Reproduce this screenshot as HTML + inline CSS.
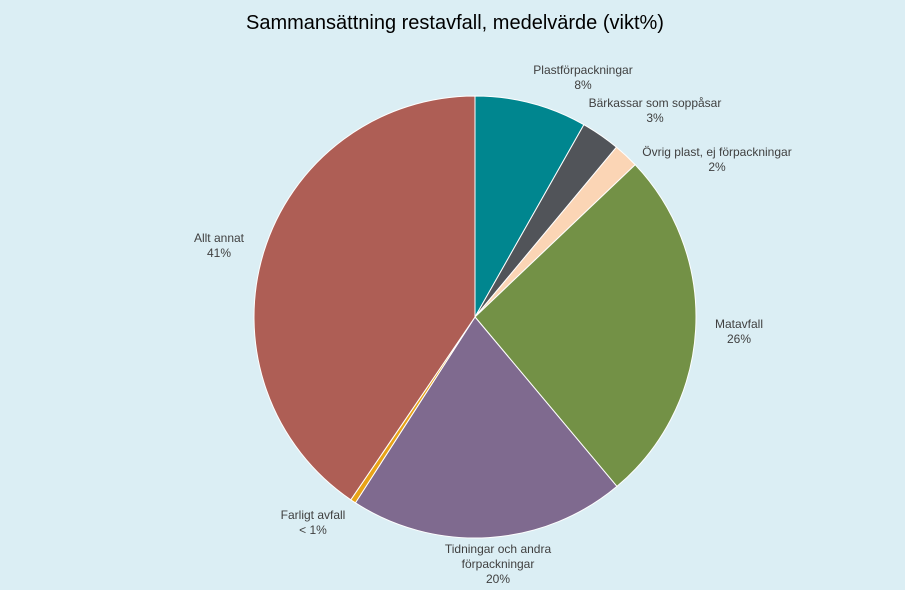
<!DOCTYPE html>
<html><head><meta charset="utf-8"><style>
html,body{margin:0;padding:0;background:#DBEEF4;}
svg{display:block;font-family:"Liberation Sans",sans-serif;}
</style></head><body>
<svg width="905" height="590" viewBox="0 0 905 590">
<rect x="0" y="0" width="905" height="590" fill="#DBEEF4"/>
<text x="455" y="29" text-anchor="middle" font-size="20" fill="#000">Sammansättning restavfall, medelvärde (vikt%)</text>
<g id="slices"></g>
<g id="labels" font-size="12" fill="#404040"></g>
</svg>
<script>
const categories=["Plastförpackningar","Bärkassar som soppåsar","Övrig plast, ej förpackningar","Matavfall","Tidningar och andra förpackningar","Farligt avfall","Allt annat"];
const values=[8.2,2.85,1.85,26,20.2,0.4,40.5];
const printed=["8%","3%","2%","26%","20%","< 1%","41%"];
const colors=["#00868F","#515459","#FBD5B5","#739146","#7F6A8F","#E8A317","#AE5E55"];
const labelLines=[["Plastförpackningar"],["Bärkassar som soppåsar"],["Övrig plast, ej förpackningar"],["Matavfall"],["Tidningar och andra","förpackningar"],["Farligt avfall"],["Allt annat"]];
const labelPos=[[583,74],[655,107],[717,156],[739,328],[498,553],[313,519],[219,242]];
const cx=475,cy=317,r=221;
const NS="http://www.w3.org/2000/svg";
const total=values.reduce((a,b)=>a+b,0);
function pt(frac,rad){const a=frac*2*Math.PI;return [cx+rad*Math.sin(a),cy-rad*Math.cos(a)];}
const sg=document.getElementById('slices'),lg=document.getElementById('labels');
let acc=0;
values.forEach((v,i)=>{
  const s=acc/total,e=(acc+v)/total;acc+=v;
  const p0=pt(s,r),p1=pt(e,r),large=(e-s)>0.5?1:0;
  const p=document.createElementNS(NS,'path');
  p.setAttribute('d',`M${cx},${cy} L${p0[0]},${p0[1]} A${r},${r} 0 ${large} 1 ${p1[0]},${p1[1]} Z`);
  p.setAttribute('fill',colors[i]);p.setAttribute('stroke','#fff');p.setAttribute('stroke-width','1');
  
  
  sg.appendChild(p);
  const t=document.createElementNS(NS,'text');
  t.setAttribute('text-anchor','middle');
  
  
  const lines=labelLines[i].concat([printed[i]]);
  lines.forEach((ln,j)=>{const ts=document.createElementNS(NS,'tspan');ts.setAttribute('x',labelPos[i][0]);ts.setAttribute('y',labelPos[i][1]+j*15);ts.textContent=ln;t.appendChild(ts);});
  lg.appendChild(t);
});
</script>
</body></html>
